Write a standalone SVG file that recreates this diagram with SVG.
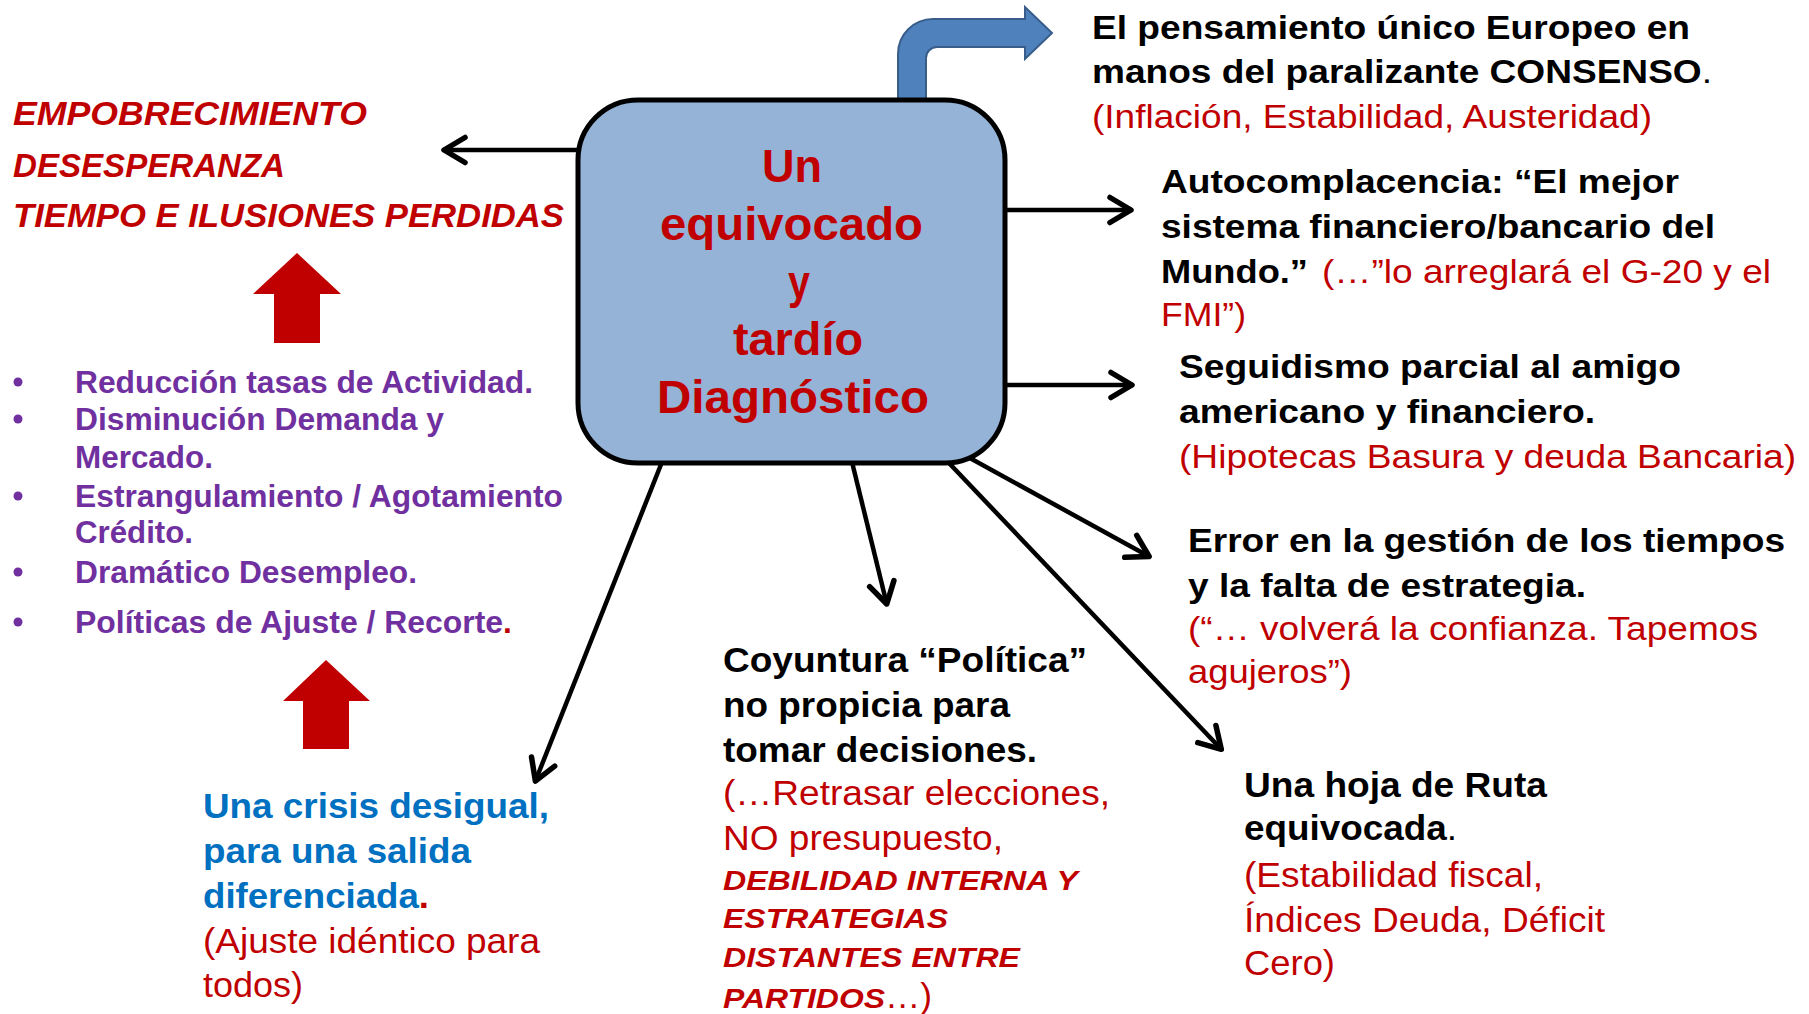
<svg xmlns="http://www.w3.org/2000/svg" width="1809" height="1014" viewBox="0 0 1809 1014">
<style>
text{font-family:"Liberation Sans",Arial,sans-serif;}
.b{font-weight:bold;}
.n{font-weight:normal;}
.bi{font-weight:bold;font-style:italic;}
.red{fill:#C00000;}
.blk{fill:#000;}
.pur{fill:#7030A0;}
.blu{fill:#0070C0;}
.f32{font-size:33px;}
.f35{font-size:35px;}
.f31{font-size:31px;}
.conn{stroke:#000;stroke-width:4.5;fill:none;marker-end:url(#ah);}
</style>
<defs>
<marker id="ah" markerUnits="userSpaceOnUse" markerWidth="40" markerHeight="40" viewBox="-30 -20 40 40" refX="0" refY="0" orient="auto" overflow="visible">
<path d="M-22,-12.5 L-1,0 L-22,12.5" fill="none" stroke="#000" stroke-width="5.5" stroke-linecap="round" stroke-linejoin="round"/>
</marker>
</defs>
<rect width="1809" height="1014" fill="#fff"/>

<g id="connectors">
<line class="conn" x1="580" y1="150" x2="443" y2="150"/>
<line class="conn" x1="1003" y1="210" x2="1132" y2="210"/>
<line class="conn" x1="1003" y1="385" x2="1133" y2="385"/>
<line class="conn" x1="968" y1="457" x2="1150" y2="557"/>
<line class="conn" x1="948" y1="462" x2="1222" y2="750"/>
<line class="conn" x1="852" y1="462" x2="887" y2="605"/>
<line class="conn" x1="662" y1="462" x2="535" y2="782"/>
</g>

<g id="bent-arrow">
<path d="M898,101 L898,54 A35,35 0 0 1 933,19 L1025,19 L1025,7 L1052,33 L1025,59 L1025,47 L937,47 A11,11 0 0 0 926,58 L926,101 Z" fill="#4F81BD" stroke="#385D8A" stroke-width="2"/>
</g>

<g id="center">
<rect x="578" y="100" width="427" height="363" rx="60" ry="60" fill="#95B3D7" stroke="#000" stroke-width="5"/>
<text class="b red" font-size="46" x="762" y="182" textLength="60" lengthAdjust="spacingAndGlyphs">Un</text>
<text class="b red" font-size="46" x="660" y="240" textLength="263" lengthAdjust="spacingAndGlyphs">equivocado</text>
<text class="b red" font-size="46" x="788" y="298" textLength="22" lengthAdjust="spacingAndGlyphs">y</text>
<text class="b red" font-size="46" x="733" y="355" textLength="130" lengthAdjust="spacingAndGlyphs">tardío</text>
<text class="b red" font-size="46" x="657" y="413" textLength="272" lengthAdjust="spacingAndGlyphs">Diagnóstico</text>
</g>

<g id="consequences">
<text class="bi red" font-size="34" x="13" y="125" textLength="354" lengthAdjust="spacingAndGlyphs">EMPOBRECIMIENTO</text>
<text class="bi red" font-size="34" x="13" y="177" textLength="272" lengthAdjust="spacingAndGlyphs">DESESPERANZA</text>
<text class="bi red" font-size="34" x="13" y="227" textLength="551" lengthAdjust="spacingAndGlyphs">TIEMPO E ILUSIONES PERDIDAS</text>
</g>

<g id="up-arrow-1">
<path d="M297,253 L341,294 L320,294 L320,343 L274,343 L274,294 L253,294 Z" fill="#C00000"/>
</g>

<g id="bullets">
<circle cx="18" cy="382" r="4.5" fill="#7030A0"/>
<circle cx="18" cy="419" r="4.5" fill="#7030A0"/>
<circle cx="18" cy="496" r="4.5" fill="#7030A0"/>
<circle cx="18" cy="572" r="4.5" fill="#7030A0"/>
<circle cx="18" cy="622" r="4.5" fill="#7030A0"/>
<text class="b pur f31" x="75" y="393" textLength="458" lengthAdjust="spacingAndGlyphs">Reducción tasas de Actividad.</text>
<text class="b pur f31" x="75" y="430" textLength="369" lengthAdjust="spacingAndGlyphs">Disminución Demanda y</text>
<text class="b pur f31" x="75" y="468" textLength="138" lengthAdjust="spacingAndGlyphs">Mercado.</text>
<text class="b pur f31" x="75" y="507" textLength="488" lengthAdjust="spacingAndGlyphs">Estrangulamiento / Agotamiento</text>
<text class="b pur f31" x="75" y="543" textLength="118" lengthAdjust="spacingAndGlyphs">Crédito.</text>
<text class="b pur f31" x="75" y="583" textLength="342" lengthAdjust="spacingAndGlyphs">Dramático Desempleo.</text>
<text class="b pur f31" x="75" y="633" textLength="437" lengthAdjust="spacingAndGlyphs">Políticas de Ajuste / Recorte<tspan class="red">.</tspan></text>
</g>

<g id="up-arrow-2">
<path d="M326,660 L370,701 L349,701 L349,749 L303,749 L303,701 L283,701 Z" fill="#C00000"/>
</g>

<g id="node-pensamiento">
<text class="b blk f32" x="1092" y="39" textLength="598" lengthAdjust="spacingAndGlyphs">El pensamiento único Europeo en</text>
<text class="b blk f32" x="1092" y="83" textLength="620" lengthAdjust="spacingAndGlyphs">manos del paralizante CONSENSO<tspan class="n">.</tspan></text>
<text class="n red f32" x="1092" y="128" textLength="560" lengthAdjust="spacingAndGlyphs">(Inflación, Estabilidad, Austeridad)</text>
</g>

<g id="node-autocomplacencia">
<text class="b blk f32" x="1161" y="193" textLength="518" lengthAdjust="spacingAndGlyphs">Autocomplacencia: “El mejor</text>
<text class="b blk f32" x="1161" y="238" textLength="554" lengthAdjust="spacingAndGlyphs">sistema financiero/bancario del</text>
<text class="b blk f32" x="1161" y="283" textLength="147" lengthAdjust="spacingAndGlyphs">Mundo.”</text>
<text class="n red f32" x="1322" y="283" textLength="449" lengthAdjust="spacingAndGlyphs">(…”lo arreglará el G-20 y el</text>
<text class="n red f32" x="1161" y="326" textLength="85" lengthAdjust="spacingAndGlyphs">FMI”)</text>
</g>

<g id="node-seguidismo">
<text class="b blk f32" x="1179" y="378" textLength="502" lengthAdjust="spacingAndGlyphs">Seguidismo parcial al amigo</text>
<text class="b blk f32" x="1179" y="423" textLength="416" lengthAdjust="spacingAndGlyphs">americano y financiero.</text>
<text class="n red f32" x="1179" y="468" textLength="617" lengthAdjust="spacingAndGlyphs">(Hipotecas Basura y deuda Bancaria)</text>
</g>

<g id="node-error">
<text class="b blk f32" x="1188" y="552" textLength="597" lengthAdjust="spacingAndGlyphs">Error en la gestión de los tiempos</text>
<text class="b blk f32" x="1188" y="597" textLength="398" lengthAdjust="spacingAndGlyphs">y la falta de estrategia.</text>
<text class="n red f32" x="1188" y="640" textLength="570" lengthAdjust="spacingAndGlyphs">(“… volverá la confianza. Tapemos</text>
<text class="n red f32" x="1188" y="683" textLength="164" lengthAdjust="spacingAndGlyphs">agujeros”)</text>
</g>

<g id="node-coyuntura">
<text class="b blk f35" x="723" y="672" textLength="364" lengthAdjust="spacingAndGlyphs">Coyuntura “Política”</text>
<text class="b blk f35" x="723" y="717" textLength="287" lengthAdjust="spacingAndGlyphs">no propicia para</text>
<text class="b blk f35" x="723" y="762" textLength="314" lengthAdjust="spacingAndGlyphs">tomar decisiones.</text>
<text class="n red f35" x="723" y="805" textLength="387" lengthAdjust="spacingAndGlyphs">(…Retrasar elecciones,</text>
<text class="n red f35" x="723" y="850" textLength="280" lengthAdjust="spacingAndGlyphs">NO presupuesto,</text>
<text class="bi red" font-size="28" x="723" y="890" textLength="355" lengthAdjust="spacingAndGlyphs">DEBILIDAD INTERNA Y</text>
<text class="bi red" font-size="28" x="723" y="928" textLength="225" lengthAdjust="spacingAndGlyphs">ESTRATEGIAS</text>
<text class="bi red" font-size="28" x="723" y="967" textLength="297" lengthAdjust="spacingAndGlyphs">DISTANTES ENTRE</text>
<text class="bi red" font-size="28" x="723" y="1008" textLength="162" lengthAdjust="spacingAndGlyphs">PARTIDOS</text>
<text class="n red f35" x="885" y="1008" textLength="47" lengthAdjust="spacingAndGlyphs">…)</text>
</g>

<g id="node-crisis">
<text class="b blu f35" x="203" y="818" textLength="346" lengthAdjust="spacingAndGlyphs">Una crisis desigual,</text>
<text class="b blu f35" x="203" y="863" textLength="268" lengthAdjust="spacingAndGlyphs">para una salida</text>
<text class="b blu f35" x="203" y="908" textLength="226" lengthAdjust="spacingAndGlyphs">diferenciada<tspan class="red">.</tspan></text>
<text class="n red f35" x="203" y="953" textLength="337" lengthAdjust="spacingAndGlyphs">(Ajuste idéntico para</text>
<text class="n red f35" x="203" y="997" textLength="100" lengthAdjust="spacingAndGlyphs">todos)</text>
</g>

<g id="node-hoja">
<text class="b blk f35" x="1244" y="797" textLength="303" lengthAdjust="spacingAndGlyphs">Una hoja de Ruta</text>
<text class="b blk f35" x="1244" y="840" textLength="213" lengthAdjust="spacingAndGlyphs">equivocada<tspan class="n">.</tspan></text>
<text class="n red f35" x="1244" y="887" textLength="299" lengthAdjust="spacingAndGlyphs">(Estabilidad fiscal,</text>
<text class="n red f35" x="1244" y="932" textLength="361" lengthAdjust="spacingAndGlyphs">Índices Deuda, Déficit</text>
<text class="n red f35" x="1244" y="975" textLength="91" lengthAdjust="spacingAndGlyphs">Cero)</text>
</g>
</svg>
